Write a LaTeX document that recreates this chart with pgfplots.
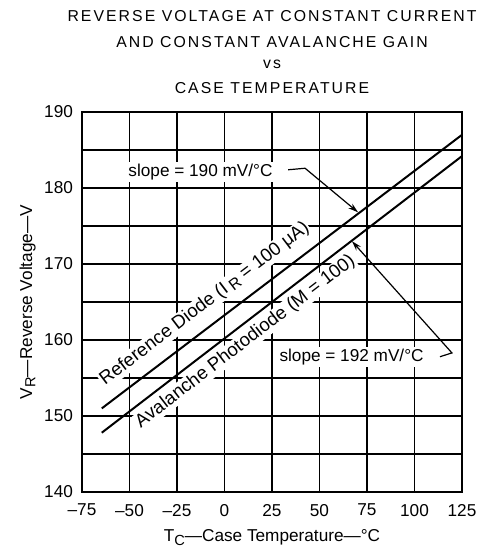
\documentclass[border=0pt]{standalone}
\usepackage{fontspec}
\setmainfont{Liberation Sans}
\usepackage{pgfplots}
\pgfplotsset{compat=1.18}
\usetikzlibrary{arrows.meta}

\newcommand\lbl{\fontsize{8.6}{10}\selectfont}
\newcommand\ttl{\fontsize{7.9}{9}\selectfont\addfontfeature{LetterSpace=13}}
\newcommand\sub[1]{\raisebox{-1.6pt}{\scalebox{0.85}{#1}}}

\begin{document}
\begin{tikzpicture}
\useasboundingbox (-41pt,-27.5pt) rectangle (200pt,246pt);
\begin{axis}[
  scale only axis, width=190pt, height=190pt,
  xmin=-75, xmax=125, ymin=140, ymax=190,
  xtick={-75,-50,...,125},
  xticklabels={–75,–50,–25,0,25,50,75,100,125},
  ytick={140,150,...,190},
  minor ytick={145,155,...,185},
  grid=both,
  major grid style={black, line width=0.6pt},
  minor grid style={black, line width=0.6pt},
  major tick length=0pt, minor tick length=0pt,
  axis line style={line width=1pt},
  tick label style={font=\lbl},
  xticklabel style={yshift=-2.5pt},
  yticklabel style={xshift=-1pt},
  /pgf/number format/assume math mode=true,
  xlabel={T\sub{C}—Case Temperature—°C},
  ylabel={V\sub{R}—Reverse Voltage—V},
  label style={font=\lbl},
  xlabel style={at={(axis description cs:0.5,-0.12)}, anchor=center},
  ylabel style={at={(axis description cs:-0.143,0.5)}, anchor=center},
  clip=false,
]
\node[rotate=37.2, anchor=base west, font=\fontsize{9.3}{10}\selectfont, fill=white, inner sep=0.5pt]
  at (axis cs:-63.4,153.9) {Reference Diode (I\,\sub{R} = 100 μA)};
\node[rotate=37.5, anchor=base west, font=\fontsize{9.3}{10}\selectfont, fill=white, inner sep=0.5pt]
  at (axis cs:-44.6,148.3) {Avalanche Photodiode (M = 100)};

\node[anchor=west, font=\lbl, fill=white, inner sep=1pt] at (axis cs:-51.8,182.1) {slope = 190 mV/°C};
\draw[line width=0.6pt, -{Stealth[length=5pt,width=3pt]}]
  (axis cs:33.5,182.4) -- (axis cs:42.4,182.6) -- (axis cs:70.3,176.8);
\node[anchor=west, font=\lbl, fill=white, inner sep=1pt] at (axis cs:27.7,157.8) {slope = 192 mV/°C};
\draw[line width=0.6pt, -{Stealth[length=5pt,width=3pt]}]
  (axis cs:113.4,157.8) -- (axis cs:119.7,158.3) -- (axis cs:67.1,173.0);

% reference diode, I_R = 100 uA
\addplot[black, line width=1pt] coordinates {(-64.6,151.0) (125,187.0)};
% avalanche photodiode, M = 100
\addplot[black, line width=1pt] coordinates {(-64.6,147.8) (125,184.2)};

\node[font=\ttl] at (rel axis cs:0.5,1.2526) {REVERSE VOLTAGE AT CONSTANT CURRENT};
\node[font=\ttl] at (rel axis cs:0.5,1.184) {AND CONSTANT AVALANCHE GAIN};
\node[font=\ttl] at (rel axis cs:0.5,1.126) {vs};
\node[font=\ttl] at (rel axis cs:0.5,1.063) {CASE TEMPERATURE};
\end{axis}
\end{tikzpicture}
\end{document}
